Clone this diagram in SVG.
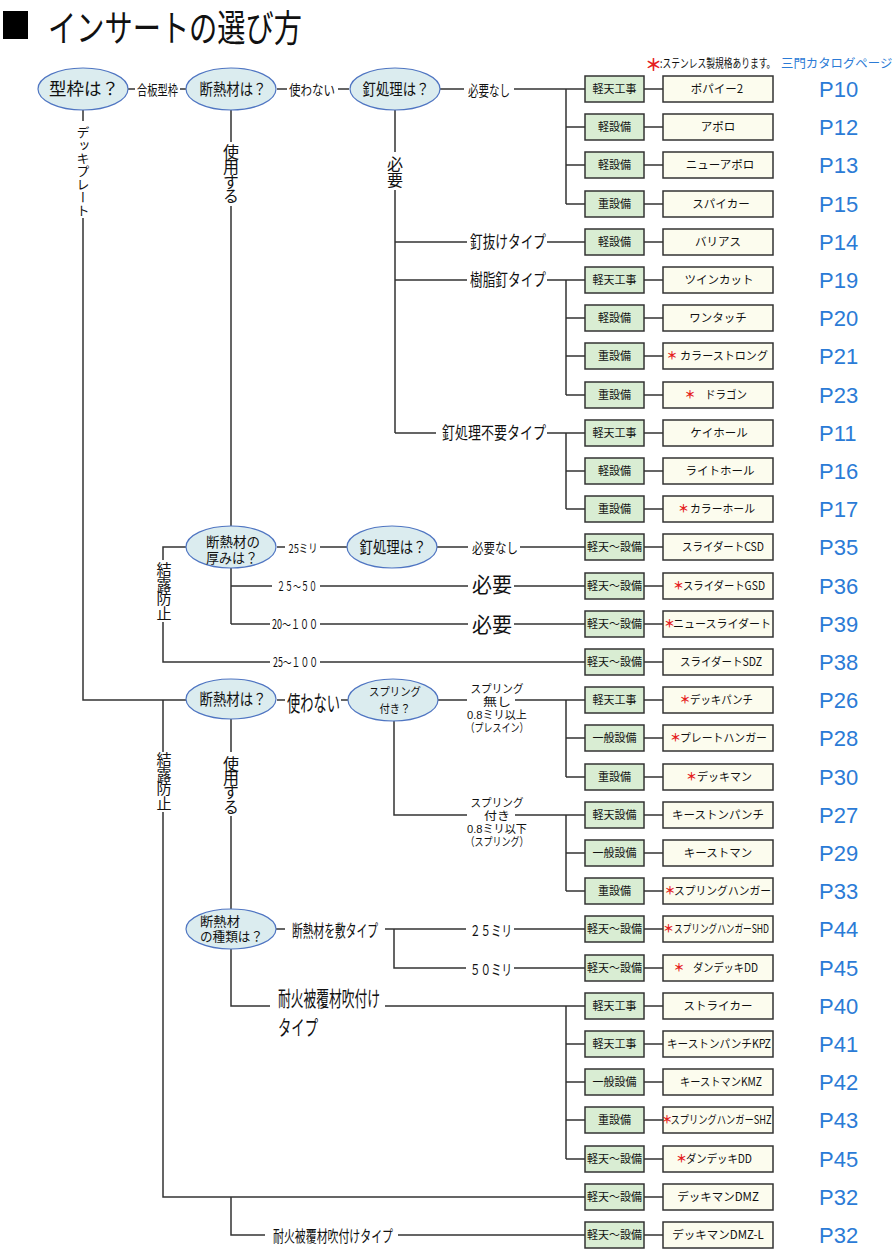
<svg xmlns="http://www.w3.org/2000/svg" width="894" height="1253" viewBox="0 0 894 1253">
<style>
text{font-family:"Noto Sans CJK JP","Noto Sans CJK SC",sans-serif;fill:#111}
text.lf{font-family:"Liberation Sans","Noto Sans CJK JP",sans-serif}
.c{fill:none;stroke:#333;stroke-width:1.5}
.g rect{fill:#d9edd3;stroke:#333;stroke-width:1.5}
.g text{font-size:11px;text-anchor:middle}
.p rect{fill:#fcfcee;stroke:#333;stroke-width:1.5}
.p text{font-size:11.5px;text-anchor:middle}
.p text.s{text-anchor:start}
.p text.ast{fill:#e52020;font-weight:bold;font-size:11px}
.e ellipse{fill:#dbecef;stroke:#4f75c2;stroke-width:1.2}
.e text{text-anchor:middle}
.pg text{font-family:"Liberation Sans",Arial,sans-serif;font-size:22px;fill:#2b7bd6}
.v{writing-mode:vertical-rl}
.m{text-anchor:middle}
</style>
<rect x="0" y="0" width="894" height="1253" fill="#fff"/>
<g id="title">
<rect x="3" y="11" width="25" height="28" fill="#000"/>
<text x="48" y="42" font-size="37" textLength="254" lengthAdjust="spacingAndGlyphs">インサートの選び方</text>
</g>
<g id="notice">
<text x="645" y="71" font-size="17" font-weight="bold" style="fill:#e52020">＊</text>
<text transform="translate(660 68) scale(0.73 1)" font-size="12">:ステンレス製規格あります。</text>
<text x="781" y="68" font-size="12.4" style="fill:#2b7bd6">三門カタログページ</text>
</g>
<g id="connectors" class="c">
<path d="M128 89H135M180 89H186M277 89H287M338 89H349M440 89H464M514 89H585M566 89V204M566 127H585M566 165H585M566 204H585
M395 110V152M395 190V433M395 242H467M547 242H585M395 280H467M547 280H585M566 280V395M566 318H585M566 356H585M566 395H585
M395 433H436M547 433H585M566 433V509M566 471H585M566 509H585
M231 110V142M231 206V527M83 110V121M83 218V700H186
M277 547H285M320 547H347M437 547H468M520 547H585
M231 568V624M231 586H272M320 586H468M514 586H585M231 624H270M320 624H468M514 624H585
M186 547H163V560M163 622V662H270M320 662H585
M163 700V752M163 812V1197H585M277 700H285M341 700H348
M438 700H467M515 700H585M566 700V777M566 738H585M566 777H585
M394 720V815H467M515 815H585M566 815V891M566 853H585M566 891H585
M231 719V752M231 816V909M276 929H285M385 929H466M514 929H585M394 929V968H466M514 968H585
M231 949V1006H270M385 1006H585M566 1006V1159M566 1044H585M566 1082H585M566 1120H585M566 1159H585
M231 1197V1235H265M398 1235H585
M644 89H663M644 127H663M644 165H663M644 204H663M644 242H663M644 280H663M644 318H663M644 356H663M644 395H663M644 433H663M644 471H663M644 509H663
M644 547H663M644 586H663M644 624H663M644 662H663M644 700H663M644 738H663M644 777H663M644 815H663M644 853H663M644 891H663M644 929H663M644 968H663
M644 1006H663M644 1044H663M644 1082H663M644 1120H663M644 1159H663M644 1197H663M644 1235H663"/>
</g>
<g id="labels">
<text x="157.5" y="95" font-size="14" class="m" textLength="41" lengthAdjust="spacingAndGlyphs">合板型枠</text>
<text x="312" y="95" font-size="14" class="m" textLength="46" lengthAdjust="spacingAndGlyphs">使わない</text>
<text x="489" y="96" font-size="15" class="m" textLength="42" lengthAdjust="spacingAndGlyphs">必要なし</text>
<text x="83" y="126" font-size="13" class="v">デッキプレート</text>
<text x="231" y="144" font-size="16" class="v" letter-spacing="-1.2">使用する</text>
<text x="395" y="156" font-size="16" class="v" letter-spacing="-0.5">必要</text>
<text x="470" y="248" font-size="17" textLength="76" lengthAdjust="spacingAndGlyphs">釘抜けタイプ</text>
<text x="470" y="286" font-size="17" textLength="76" lengthAdjust="spacingAndGlyphs">樹脂釘タイプ</text>
<text x="442" y="439" font-size="17" textLength="104" lengthAdjust="spacingAndGlyphs">釘処理不要タイプ</text>
<text x="303" y="553" font-size="12" class="m" textLength="29" lengthAdjust="spacingAndGlyphs">25ミリ</text>
<text x="495" y="553" font-size="14" class="m" textLength="46" lengthAdjust="spacingAndGlyphs">必要なし</text>
<text x="297" y="591" font-size="13" class="m" textLength="40" lengthAdjust="spacingAndGlyphs">２５～５０</text>
<text x="492" y="592" font-size="21" class="m" textLength="40" lengthAdjust="spacingAndGlyphs">必要</text>
<text x="295" y="629" font-size="13" class="m" textLength="46" lengthAdjust="spacingAndGlyphs">20～１００</text>
<text x="492" y="632" font-size="21" class="m" textLength="40" lengthAdjust="spacingAndGlyphs">必要</text>
<text x="164" y="562" font-size="15" class="v" letter-spacing="-0.5">結露防止</text>
<text x="295.5" y="667" font-size="13" class="m" textLength="45" lengthAdjust="spacingAndGlyphs">25～１００</text>
<text transform="translate(287 711) scale(0.602 1)" font-size="22">使わない</text>
<text x="164" y="752" font-size="15" class="v" letter-spacing="-0.5">結露防止</text>
<text x="231" y="756" font-size="16" class="v" letter-spacing="-1.8">使用する</text>
<text font-size="11.5" class="m lf"><tspan x="497" y="693" textLength="53" lengthAdjust="spacingAndGlyphs">スプリング</tspan><tspan x="497" y="706" textLength="28" lengthAdjust="spacingAndGlyphs">無し</tspan><tspan x="497" y="719" textLength="60" lengthAdjust="spacingAndGlyphs">0.8ミリ以上</tspan><tspan x="497" y="732" textLength="63" lengthAdjust="spacingAndGlyphs">（プレスイン）</tspan></text>
<text font-size="11.5" class="m lf"><tspan x="497" y="807" textLength="53" lengthAdjust="spacingAndGlyphs">スプリング</tspan><tspan x="497" y="820" textLength="26" lengthAdjust="spacingAndGlyphs">付き</tspan><tspan x="497" y="833" textLength="60" lengthAdjust="spacingAndGlyphs">0.8ミリ以下</tspan><tspan x="497" y="846" textLength="63" lengthAdjust="spacingAndGlyphs">（スプリング）</tspan></text>
<text x="335" y="937" font-size="17" class="m" textLength="86" lengthAdjust="spacingAndGlyphs">断熱材を敷タイプ</text>
<text x="491" y="936" font-size="15" class="m" textLength="42" lengthAdjust="spacingAndGlyphs">２５ミリ</text>
<text x="491" y="975" font-size="15" class="m" textLength="42" lengthAdjust="spacingAndGlyphs">５０ミリ</text>
<text font-size="21" class="lf"><tspan x="278" y="1006" textLength="102" lengthAdjust="spacingAndGlyphs">耐火被覆材吹付け</tspan><tspan x="278" y="1035" textLength="40" lengthAdjust="spacingAndGlyphs">タイプ</tspan></text>
<text x="273" y="1242" font-size="16" textLength="120" lengthAdjust="spacingAndGlyphs">耐火被覆材吹付けタイプ</text>
</g>
<g id="q-katawaku" class="e"><ellipse cx="83" cy="89" rx="45" ry="21"/><text x="84" y="95" font-size="17.5">型枠は？</text></g>
<g id="q-dannetsu1" class="e"><ellipse cx="231" cy="89" rx="45" ry="21"/><text x="233" y="95" font-size="16" textLength="67" lengthAdjust="spacingAndGlyphs">断熱材は？</text></g>
<g id="q-kugi1" class="e"><ellipse cx="395" cy="89" rx="45" ry="21"/><text x="396" y="95" font-size="16" textLength="67" lengthAdjust="spacingAndGlyphs">釘処理は？</text></g>
<g id="q-atsumi" class="e"><ellipse cx="231" cy="547" rx="45" ry="21"/><text font-size="13.5" class="lf"><tspan x="233" y="547" textLength="54" lengthAdjust="spacingAndGlyphs">断熱材の</tspan><tspan x="232" y="563" textLength="52" lengthAdjust="spacingAndGlyphs">厚みは？</tspan></text></g>
<g id="q-kugi2" class="e"><ellipse cx="392" cy="547" rx="45" ry="21"/><text x="393" y="553" font-size="16" textLength="67" lengthAdjust="spacingAndGlyphs">釘処理は？</text></g>
<g id="q-dannetsu2" class="e"><ellipse cx="231" cy="699" rx="45" ry="20"/><text x="233" y="705" font-size="16" textLength="67" lengthAdjust="spacingAndGlyphs">断熱材は？</text></g>
<g id="q-spring" class="e"><ellipse cx="393" cy="700" rx="45" ry="21"/><text font-size="11.5" class="lf"><tspan x="395" y="696" textLength="52" lengthAdjust="spacingAndGlyphs">スプリング</tspan><tspan x="395" y="712.5" textLength="31" lengthAdjust="spacingAndGlyphs">付き？</tspan></text></g>
<g id="q-shurui" class="e"><ellipse cx="231" cy="929" rx="45" ry="20"/><text font-size="13" class="lf" style="text-anchor:start"><tspan x="200" y="926" textLength="40" lengthAdjust="spacingAndGlyphs">断熱材</tspan><tspan x="200" y="941" textLength="63" lengthAdjust="spacingAndGlyphs">の種類は？</tspan></text></g>

<g id="cat-0" class="g"><rect x="585" y="76" width="59" height="26"/><text x="614.5" y="93">軽天工事</text></g>
<g id="prod-0" class="p"><rect x="663" y="76" width="110" height="26"/><text x="717" y="93">ポパイー2</text></g>
<g id="cat-1" class="g"><rect x="585" y="114" width="59" height="26"/><text x="614.5" y="131">軽設備</text></g>
<g id="prod-1" class="p"><rect x="663" y="114" width="110" height="26"/><text x="718" y="131">アポロ</text></g>
<g id="cat-2" class="g"><rect x="585" y="152" width="59" height="26"/><text x="614.5" y="169">軽設備</text></g>
<g id="prod-2" class="p"><rect x="663" y="152" width="110" height="26"/><text x="720" y="169">ニューアポロ</text></g>
<g id="cat-3" class="g"><rect x="585" y="191" width="59" height="26"/><text x="614.5" y="208">重設備</text></g>
<g id="prod-3" class="p"><rect x="663" y="191" width="110" height="26"/><text x="721" y="208">スパイカー</text></g>
<g id="cat-4" class="g"><rect x="585" y="229" width="59" height="26"/><text x="614.5" y="246">軽設備</text></g>
<g id="prod-4" class="p"><rect x="663" y="229" width="110" height="26"/><text x="718" y="246">バリアス</text></g>
<g id="cat-5" class="g"><rect x="585" y="267" width="59" height="26"/><text x="614.5" y="284">軽天工事</text></g>
<g id="prod-5" class="p"><rect x="663" y="267" width="110" height="26"/><text x="719" y="284">ツインカット</text></g>
<g id="cat-6" class="g"><rect x="585" y="305" width="59" height="26"/><text x="614.5" y="322">軽設備</text></g>
<g id="prod-6" class="p"><rect x="663" y="305" width="110" height="26"/><text x="718" y="322">ワンタッチ</text></g>
<g id="cat-7" class="g"><rect x="585" y="343" width="59" height="26"/><text x="614.5" y="360">重設備</text></g>
<g id="prod-7" class="p"><rect x="663" y="343" width="110" height="26"/><text class="ast" x="672" y="360">＊</text><text class="s" x="680" y="360" textLength="88" lengthAdjust="spacingAndGlyphs">カラーストロング</text></g>
<g id="cat-8" class="g"><rect x="585" y="382" width="59" height="26"/><text x="614.5" y="399">重設備</text></g>
<g id="prod-8" class="p"><rect x="663" y="382" width="110" height="26"/><text class="ast" x="690" y="399">＊</text><text class="s" x="705" y="399" textLength="42" lengthAdjust="spacingAndGlyphs">ドラゴン</text></g>
<g id="cat-9" class="g"><rect x="585" y="420" width="59" height="26"/><text x="614.5" y="437">軽天工事</text></g>
<g id="prod-9" class="p"><rect x="663" y="420" width="110" height="26"/><text x="719" y="437">ケイホール</text></g>
<g id="cat-10" class="g"><rect x="585" y="458" width="59" height="26"/><text x="614.5" y="475">軽設備</text></g>
<g id="prod-10" class="p"><rect x="663" y="458" width="110" height="26"/><text x="720" y="475">ライトホール</text></g>
<g id="cat-11" class="g"><rect x="585" y="496" width="59" height="26"/><text x="614.5" y="513">重設備</text></g>
<g id="prod-11" class="p"><rect x="663" y="496" width="110" height="26"/><text class="ast" x="683.5" y="513">＊</text><text class="s" x="690" y="513" textLength="65" lengthAdjust="spacingAndGlyphs">カラーホール</text></g>
<g id="cat-12" class="g"><rect x="585" y="534" width="59" height="26"/><text x="614.5" y="551">軽天～設備</text></g>
<g id="prod-12" class="p"><rect x="663" y="534" width="110" height="26"/><text class="s" x="682" y="551" textLength="82" lengthAdjust="spacingAndGlyphs">スライダートCSD</text></g>
<g id="cat-13" class="g"><rect x="585" y="573" width="59" height="26"/><text x="614.5" y="590">軽天～設備</text></g>
<g id="prod-13" class="p"><rect x="663" y="573" width="110" height="26"/><text class="ast" x="678.5" y="590">＊</text><text class="s" x="683" y="590" textLength="82" lengthAdjust="spacingAndGlyphs">スライダートGSD</text></g>
<g id="cat-14" class="g"><rect x="585" y="611" width="59" height="26"/><text x="614.5" y="628">軽天～設備</text></g>
<g id="prod-14" class="p"><rect x="663" y="611" width="110" height="26"/><text class="ast" x="669.5" y="628">＊</text><text class="s" x="673" y="628" textLength="98" lengthAdjust="spacingAndGlyphs">ニュースライダート</text></g>
<g id="cat-15" class="g"><rect x="585" y="649" width="59" height="26"/><text x="614.5" y="666">軽天～設備</text></g>
<g id="prod-15" class="p"><rect x="663" y="649" width="110" height="26"/><text class="s" x="680" y="666" textLength="82" lengthAdjust="spacingAndGlyphs">スライダートSDZ</text></g>
<g id="cat-16" class="g"><rect x="585" y="687" width="59" height="26"/><text x="614.5" y="704">軽天工事</text></g>
<g id="prod-16" class="p"><rect x="663" y="687" width="110" height="26"/><text class="ast" x="685" y="704">＊</text><text class="s" x="690" y="704" textLength="63" lengthAdjust="spacingAndGlyphs">デッキパンチ</text></g>
<g id="cat-17" class="g"><rect x="585" y="725" width="59" height="26"/><text x="614.5" y="742">一般設備</text></g>
<g id="prod-17" class="p"><rect x="663" y="725" width="110" height="26"/><text class="ast" x="675.5" y="742">＊</text><text class="s" x="680" y="742" textLength="87" lengthAdjust="spacingAndGlyphs">プレートハンガー</text></g>
<g id="cat-18" class="g"><rect x="585" y="764" width="59" height="26"/><text x="614.5" y="781">重設備</text></g>
<g id="prod-18" class="p"><rect x="663" y="764" width="110" height="26"/><text class="ast" x="691.5" y="781">＊</text><text class="s" x="697" y="781" textLength="55" lengthAdjust="spacingAndGlyphs">デッキマン</text></g>
<g id="cat-19" class="g"><rect x="585" y="802" width="59" height="26"/><text x="614.5" y="819">軽天設備</text></g>
<g id="prod-19" class="p"><rect x="663" y="802" width="110" height="26"/><text x="718" y="819">キーストンパンチ</text></g>
<g id="cat-20" class="g"><rect x="585" y="840" width="59" height="26"/><text x="614.5" y="857">一般設備</text></g>
<g id="prod-20" class="p"><rect x="663" y="840" width="110" height="26"/><text x="718" y="857">キーストマン</text></g>
<g id="cat-21" class="g"><rect x="585" y="878" width="59" height="26"/><text x="614.5" y="895">重設備</text></g>
<g id="prod-21" class="p"><rect x="663" y="878" width="110" height="26"/><text class="ast" x="670" y="895">＊</text><text class="s" x="674" y="895" textLength="97" lengthAdjust="spacingAndGlyphs">スプリングハンガー</text></g>
<g id="cat-22" class="g"><rect x="585" y="916" width="59" height="26"/><text x="614.5" y="933">軽天～設備</text></g>
<g id="prod-22" class="p"><rect x="663" y="916" width="110" height="26"/><text class="ast" x="668.5" y="933">＊</text><text class="s" x="674" y="933" textLength="95" lengthAdjust="spacingAndGlyphs">スプリングハンガーSHD</text></g>
<g id="cat-23" class="g"><rect x="585" y="955" width="59" height="26"/><text x="614.5" y="972">軽天～設備</text></g>
<g id="prod-23" class="p"><rect x="663" y="955" width="110" height="26"/><text class="ast" x="679" y="972">＊</text><text class="s" x="693" y="972" textLength="65" lengthAdjust="spacingAndGlyphs">ダンデッキDD</text></g>
<g id="cat-24" class="g"><rect x="585" y="993" width="59" height="26"/><text x="614.5" y="1010">軽天工事</text></g>
<g id="prod-24" class="p"><rect x="663" y="993" width="110" height="26"/><text x="718" y="1010">ストライカー</text></g>
<g id="cat-25" class="g"><rect x="585" y="1031" width="59" height="26"/><text x="614.5" y="1048">軽天工事</text></g>
<g id="prod-25" class="p"><rect x="663" y="1031" width="110" height="26"/><text class="s" x="667" y="1048" textLength="104" lengthAdjust="spacingAndGlyphs">キーストンパンチKPZ</text></g>
<g id="cat-26" class="g"><rect x="585" y="1069" width="59" height="26"/><text x="614.5" y="1086">一般設備</text></g>
<g id="prod-26" class="p"><rect x="663" y="1069" width="110" height="26"/><text class="s" x="680" y="1086" textLength="82" lengthAdjust="spacingAndGlyphs">キーストマンKMZ</text></g>
<g id="cat-27" class="g"><rect x="585" y="1107" width="59" height="26"/><text x="614.5" y="1124">重設備</text></g>
<g id="prod-27" class="p"><rect x="663" y="1107" width="110" height="26"/><text class="ast" x="667" y="1124">＊</text><text class="s" x="670.5" y="1124" textLength="101" lengthAdjust="spacingAndGlyphs">スプリングハンガーSHZ</text></g>
<g id="cat-28" class="g"><rect x="585" y="1146" width="59" height="26"/><text x="614.5" y="1163">軽天～設備</text></g>
<g id="prod-28" class="p"><rect x="663" y="1146" width="110" height="26"/><text class="ast" x="681.5" y="1163">＊</text><text class="s" x="686" y="1163" textLength="66" lengthAdjust="spacingAndGlyphs">ダンデッキDD</text></g>
<g id="cat-29" class="g"><rect x="585" y="1184" width="59" height="26"/><text x="614.5" y="1201">軽天～設備</text></g>
<g id="prod-29" class="p"><rect x="663" y="1184" width="110" height="26"/><text x="718" y="1201">デッキマンDMZ</text></g>
<g id="cat-30" class="g"><rect x="585" y="1222" width="59" height="26"/><text x="614.5" y="1239">軽天～設備</text></g>
<g id="prod-30" class="p"><rect x="663" y="1222" width="110" height="26"/><text x="718" y="1239">デッキマンDMZ-L</text></g>

<g id="pages" class="pg">
<text x="819" y="97">P10</text><text x="819" y="135">P12</text><text x="819" y="173">P13</text><text x="819" y="212">P15</text>
<text x="819" y="250">P14</text><text x="819" y="288">P19</text><text x="819" y="326">P20</text><text x="819" y="364">P21</text>
<text x="819" y="403">P23</text><text x="819" y="441">P11</text><text x="819" y="479">P16</text><text x="819" y="517">P17</text>
<text x="819" y="555">P35</text><text x="819" y="594">P36</text><text x="819" y="632">P39</text><text x="819" y="670">P38</text>
<text x="819" y="708">P26</text><text x="819" y="746">P28</text><text x="819" y="785">P30</text><text x="819" y="823">P27</text>
<text x="819" y="861">P29</text><text x="819" y="899">P33</text><text x="819" y="937">P44</text><text x="819" y="976">P45</text>
<text x="819" y="1014">P40</text><text x="819" y="1052">P41</text><text x="819" y="1090">P42</text><text x="819" y="1128">P43</text>
<text x="819" y="1167">P45</text><text x="819" y="1205">P32</text><text x="819" y="1243">P32</text>
</g>
</svg>
